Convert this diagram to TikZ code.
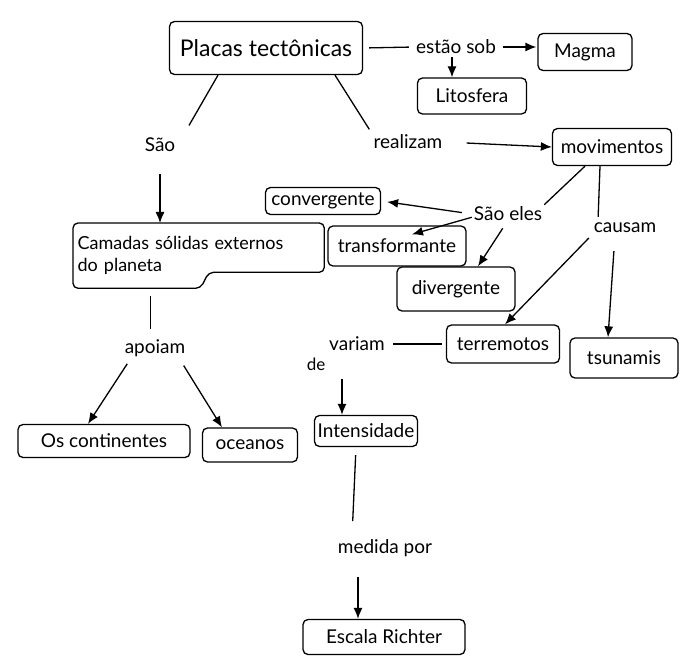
\documentclass[tikz,border=0pt]{standalone}
\usepackage{fontspec}
\setmainfont{Lato}
\usetikzlibrary{arrows.meta,calc}
\tikzset{
  box/.style={draw, rounded corners=5pt, line width=1.3pt, inner sep=3pt, font=\fontsize{19}{22}\selectfont, align=center},
  lab/.style={inner sep=2pt, font=\fontsize{19}{22}\selectfont},
  con/.style={line width=1.3pt},
  arr/.style={line width=1.3pt, -{Latex[length=11pt,width=9pt]}}
}
\begin{document}
\begin{tikzpicture}[x=1pt,y=-1pt]
\useasboundingbox (0,0) rectangle (680,671);
\fill[white] (0,0) rectangle (680,671);
% nodes
\node[box, font=\fontsize{23}{26}\selectfont, minimum width=193pt, minimum height=53pt] (placas) at (266,48) {Placas tectônicas};
\node[lab] (estao) at (456,47) {estão sob};
\node[box, minimum width=94pt, minimum height=37pt] (magma) at (585,52) {Magma};
\node[box, minimum width=109pt, minimum height=36pt] (lito) at (472,96) {Litosfera};
\node[lab] (sao) at (160,145) {São};
\node[lab] (realizam) at (408,142) {realizam};
\node[box, minimum width=119pt, minimum height=37pt] (movi) at (612,147) {movimentos};
\node[lab] (saoeles) at (508,214) {São eles};
\node[lab] (causam) at (625,228) {causam};
\node[box, minimum width=115pt, minimum height=27pt] (conv) at (323,201) {convergente};
\node[box, minimum width=138pt, minimum height=40pt] (trans) at (397,246) {transformante};
\node[box, minimum width=118pt, minimum height=44pt] (div) at (456,289) {divergente};
\node[box, draw=none, font=\fontsize{18}{22}\selectfont, align=left, minimum width=250pt, minimum height=64pt, text width=242pt, anchor=north west, inner sep=4pt] (camadas) at (73,223) {Camadas sólidas externos\\do planeta};
\draw[line width=1.3pt, rounded corners=5pt] (camadas.north west) -- (camadas.north east) -- ($(camadas.south east)+(0,-16)$) -- ($(camadas.south)+(10,-16)$) -- ($(camadas.south)+(2,0)$) -- (camadas.south west) -- cycle;
\node[box, minimum width=113pt, minimum height=38pt] (terr) at (503,344) {terremotos};
\node[box, minimum width=108pt, minimum height=40pt] (tsu) at (624,358) {tsunamis};
\node[lab] (variam) at (357,344) {variam};
\node[lab, font=\fontsize{17}{20}\selectfont] (de) at (316,364) {de};
\node[box, minimum width=103pt, minimum height=31pt] (intens) at (366,431) {Intensidade};
\node[lab] (medida) at (385,548) {medida por};
\node[box, minimum width=162pt, minimum height=35pt] (escala) at (384,637) {Escala Richter};
\node[lab] (apoiam) at (155,348) {apoiam};
\node[box, minimum width=172pt, minimum height=33pt] (cont) at (104,441) {Os continentes};
\node[box, minimum width=95pt, minimum height=34pt] (ocean) at (250,445) {oceanos};
% connectors
\draw[con, shorten <=6pt, shorten >=5pt] (placas.east) -- (estao.west);
\draw[arr, shorten <=5pt, shorten >=1pt] (estao.east) -- (estao.east -| magma.west);
\draw[arr, shorten <=1pt] ([xshift=-4pt]estao.south) -- ([xshift=-20pt]lito.north);
\draw[con, shorten >=12pt] ([xshift=-48pt]placas.south) -- ([xshift=23pt]sao.north);
\draw[con, shorten >=4pt] ([xshift=69pt]placas.south) -- (realizam.north west);
\draw[arr, shorten <=22pt] (realizam.east) -- (movi.west);
\draw[arr, shorten <=20pt] (sao.south) -- (camadas.north -| sao.south);
\draw[con] ([xshift=-27pt]movi.south) -- (saoeles.north east);
\draw[arr, shorten <=10pt, shorten >=6pt] (saoeles.west) -- (conv.east);
\draw[arr] ([yshift=6pt]saoeles.south west) -- ([xshift=15pt,yshift=-9pt]trans.north);
\draw[arr, shorten <=6pt] ([xshift=-2pt]saoeles.south) -- ([xshift=22pt]div.north);
\draw[con, shorten >=4pt] ([xshift=-12pt]movi.south) -- ([xshift=-27pt]causam.north);
\draw[arr, shorten <=4pt] (causam.south west) -- ([xshift=2pt]terr.north);
\draw[arr, shorten <=16pt] ([xshift=-10pt]causam.south) -- ([xshift=-16pt]tsu.north);
\draw[con, shorten <=4pt, shorten >=6pt] (terr.west) -- (terr.west -| variam.east);
\draw[arr, shorten <=26pt] ([xshift=-15pt]variam.south) -- ([xshift=-24pt]intens.north);
\draw[con, shorten <=8pt, shorten >=16pt] ([xshift=-10pt]intens.south) -- ([xshift=-33pt]medida.north);
\draw[arr, shorten <=18pt] ([xshift=-27pt]medida.south) -- ([xshift=-26pt]escala.north);
\draw[con, shorten <=8pt, shorten >=8pt] ([xshift=-48pt]camadas.south) -- ([xshift=-48pt]camadas.south |- apoiam.north);
\draw[arr, shorten <=6pt] ([xshift=8pt]apoiam.south west) -- ([xshift=-16pt]cont.north);
\draw[arr, shorten <=8pt] ([xshift=-8pt]apoiam.south east) -- ([xshift=-28pt]ocean.north);
\end{tikzpicture}
\end{document}
